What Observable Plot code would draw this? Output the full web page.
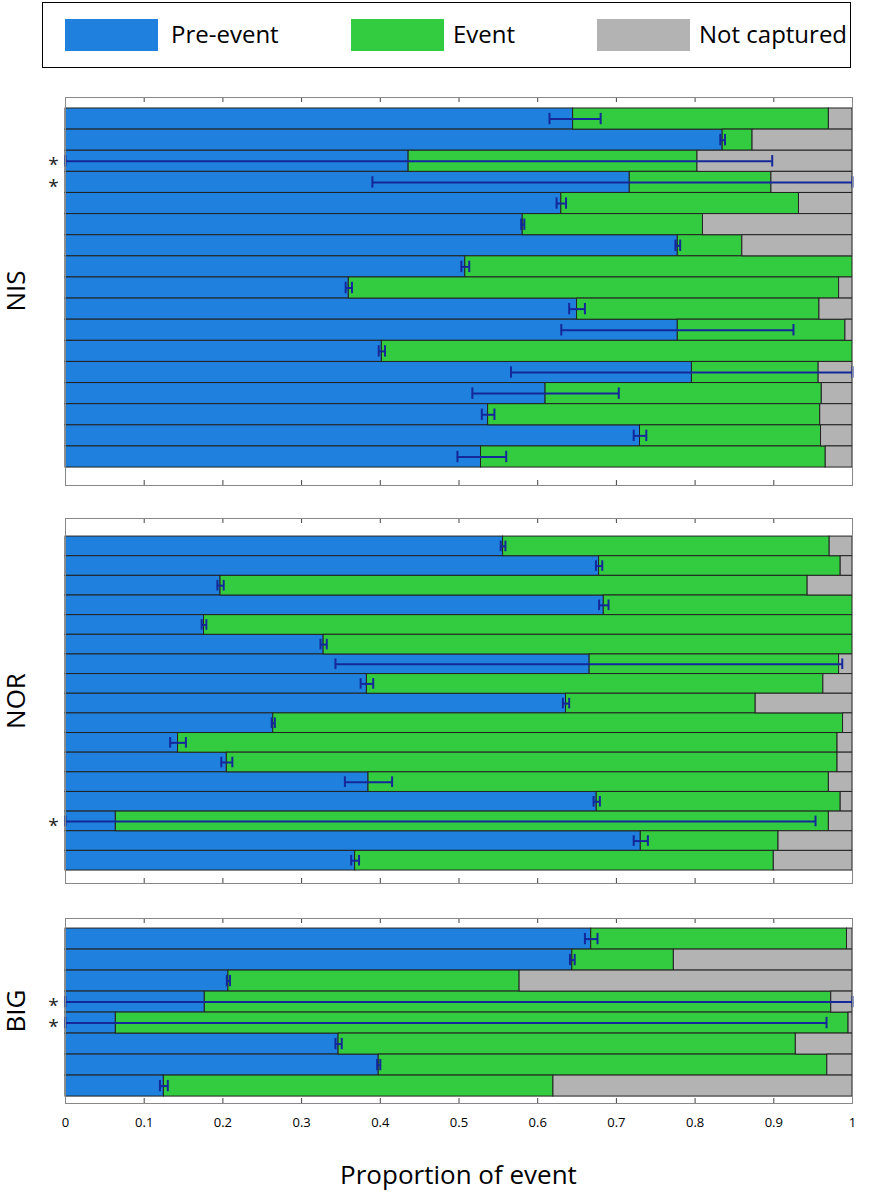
<!DOCTYPE html>
<html><head><meta charset="utf-8">
<script src="https://cdn.jsdelivr.net/npm/d3@7"></script>
<script src="https://cdn.jsdelivr.net/npm/@observablehq/plot@0.6"></script>
<style>
body{margin:0;background:#fff;font-family:"Open Sans",sans-serif;}
#root{position:relative;width:871px;height:1200px;}
.abs{position:absolute;}
.ylab{position:absolute;font-size:26px;line-height:26px;height:26px;transform:rotate(-90deg);transform-origin:center;width:100px;text-align:center;}
</style></head><body><div id="root"></div>
<script>
// NIS
const nisPre = [0.645,0.835,0.436,0.717,0.630,0.581,0.778,0.508,0.360,0.650,0.778,0.402,0.796,0.610,0.537,0.730,0.528];
const nisEventEnd = [0.970,0.873,0.803,0.897,0.932,0.810,0.860,1.0,0.983,0.958,0.991,1.0,0.957,0.961,0.959,0.960,0.966];
const nisErrLo = [0.615,0.832,0.0,0.390,0.624,0.579,0.775,0.503,0.356,0.640,0.630,0.398,0.566,0.517,0.529,0.722,0.498];
const nisErrHi = [0.680,0.838,0.898,1.0,0.636,0.583,0.781,0.513,0.364,0.660,0.925,0.406,1.0,0.703,0.545,0.738,0.560];
const nisStars = [2,3];
// NOR
const norPre = [0.556,0.678,0.197,0.684,0.176,0.328,0.666,0.383,0.636,0.264,0.143,0.205,0.385,0.675,0.064,0.731,0.368];
const norEventEnd = [0.971,0.985,0.943,1.0,1.0,1.0,0.983,0.963,0.877,0.988,0.981,0.981,0.970,0.985,0.970,0.906,0.900];
const norErrLo = [0.553,0.674,0.193,0.678,0.173,0.324,0.343,0.375,0.632,0.262,0.133,0.198,0.355,0.671,0.0,0.722,0.363];
const norErrHi = [0.559,0.682,0.201,0.690,0.179,0.332,0.987,0.391,0.640,0.266,0.153,0.212,0.415,0.679,0.953,0.740,0.373];
const norStars = [14];
// BIG
const bigPre = [0.668,0.644,0.207,0.177,0.064,0.347,0.398,0.125];
const bigEventEnd = [0.993,0.773,0.577,0.973,0.995,0.928,0.968,0.620];
const bigErrLo = [0.660,0.641,0.205,0.0,0.0,0.343,0.396,0.120];
const bigErrHi = [0.676,0.647,0.209,1.0,0.967,0.351,0.400,0.130];
const bigStars = [3,4];

const xTicks = [0,0.1,0.2,0.3,0.4,0.5,0.6,0.7,0.8,0.9,1];
const labels = ["NIS","NOR","BIG"];
const legendItems = ["Pre-event","Event","Not captured"];
const colors = ["#1f80dd","#33cc40","#b3b3b3"];
const errColor = "#14289a";

const root = document.getElementById("root");

const lg = document.createElement("div");
lg.className="abs";
Object.assign(lg.style,{left:"42px",top:"2px",width:"807px",height:"64px",border:"1px solid #000"});
root.appendChild(lg);
const sw = [[22,128],[308,410],[554,656]];
legendItems.forEach((t,i)=>{
  const s=document.createElement("div");s.className="abs";
  Object.assign(s.style,{left:sw[i][0]+"px",top:"16px",width:"93px",height:"32px",background:colors[i]});
  lg.appendChild(s);
  const l=document.createElement("div");l.className="abs";
  Object.assign(l.style,{left:sw[i][1]+"px",top:"15px",fontSize:"24px",lineHeight:"32px"});
  l.textContent=t;lg.appendChild(l);
});

function panel(pre, evEnd, lo, hi, stars, top, frameH, padTop, padBot, showAxis, label){
  const n = pre.length;
  const rows = pre.map((p,i)=>({i, pre:p, ev:evEnd[i], lo:lo[i], hi:hi[i]}));
  const yTop = -0.5 - padTop, yBot = n - 0.5 + padBot;
  const pxPerRow = frameH/(yBot-yTop);
  const tickLen = 5/pxPerRow;
  const mb = showAxis ? 32 : 1;
  const p = Plot.plot({
    width:871, height: frameH + 1 + mb,
    marginLeft:65, marginRight:19, marginTop:1, marginBottom:mb,
    x:{domain:[0,1], ticks:xTicks, tickFormat:d=>d===0?"0":d===1?"1":String(d), axis: showAxis?"bottom":null, tickSize:0, tickPadding:14, label:null},
    y:{domain:[yBot,yTop], axis:null},
    style:{fontSize:"13px", fontFamily:"Open Sans, sans-serif", color:"#000"},
    marks:[
      Plot.rect(rows,{x1:0,x2:"pre",y1:d=>d.i-0.5,y2:d=>d.i+0.5,fill:colors[0],stroke:"#222",strokeWidth:1}),
      Plot.rect(rows,{x1:"pre",x2:"ev",y1:d=>d.i-0.5,y2:d=>d.i+0.5,fill:colors[1],stroke:"#222",strokeWidth:1}),
      Plot.rect(rows.filter(d=>d.ev<1),{x1:"ev",x2:1,y1:d=>d.i-0.5,y2:d=>d.i+0.5,fill:colors[2],stroke:"#222",strokeWidth:1}),
      Plot.ruleY(rows,{y:"i",x1:"lo",x2:"hi",stroke:errColor,strokeWidth:2}),
      Plot.ruleX(rows,{x:"lo",y1:d=>d.i-0.27,y2:d=>d.i+0.27,stroke:errColor,strokeWidth:2}),
      Plot.ruleX(rows,{x:"hi",y1:d=>d.i-0.27,y2:d=>d.i+0.27,stroke:errColor,strokeWidth:2}),
      Plot.ruleX(xTicks.slice(1,-1),{x:d=>d,y1:yTop,y2:yTop+tickLen,stroke:"#444"}),
      Plot.ruleX(xTicks.slice(1,-1),{x:d=>d,y1:yBot,y2:yBot-tickLen,stroke:"#444"}),
      Plot.text(stars,{x:0,y:d=>d,text:()=>"*",dx:-12,dy:4,fontSize:19,fill:"#222"}),
      Plot.frame({stroke:"#888"})
    ]
  });
  p.style.position="absolute";p.style.left="0px";p.style.top=(top-1)+"px";
  root.appendChild(p);
  const yl=document.createElement("div");yl.className="ylab";
  yl.textContent=label;
  yl.style.left=(15-50)+"px";yl.style.top=(top+frameH/2-13)+"px";
  root.appendChild(yl);
}
panel(nisPre,nisEventEnd,nisErrLo,nisErrHi,nisStars,97,388,0.52,0.85,false,labels[0]);
panel(norPre,norEventEnd,norErrLo,norErrHi,norStars,518,365,0.92,0.66,false,labels[1]);
panel(bigPre,bigEventEnd,bigErrLo,bigErrHi,bigStars,918,185,0.48,0.33,true,labels[2]);

const xl=document.createElement("div");xl.className="abs";
Object.assign(xl.style,{left:"65px",width:"787px",top:"1156px",textAlign:"center",fontSize:"26px"});
xl.textContent="Proportion of event";root.appendChild(xl);
</script></body></html>
